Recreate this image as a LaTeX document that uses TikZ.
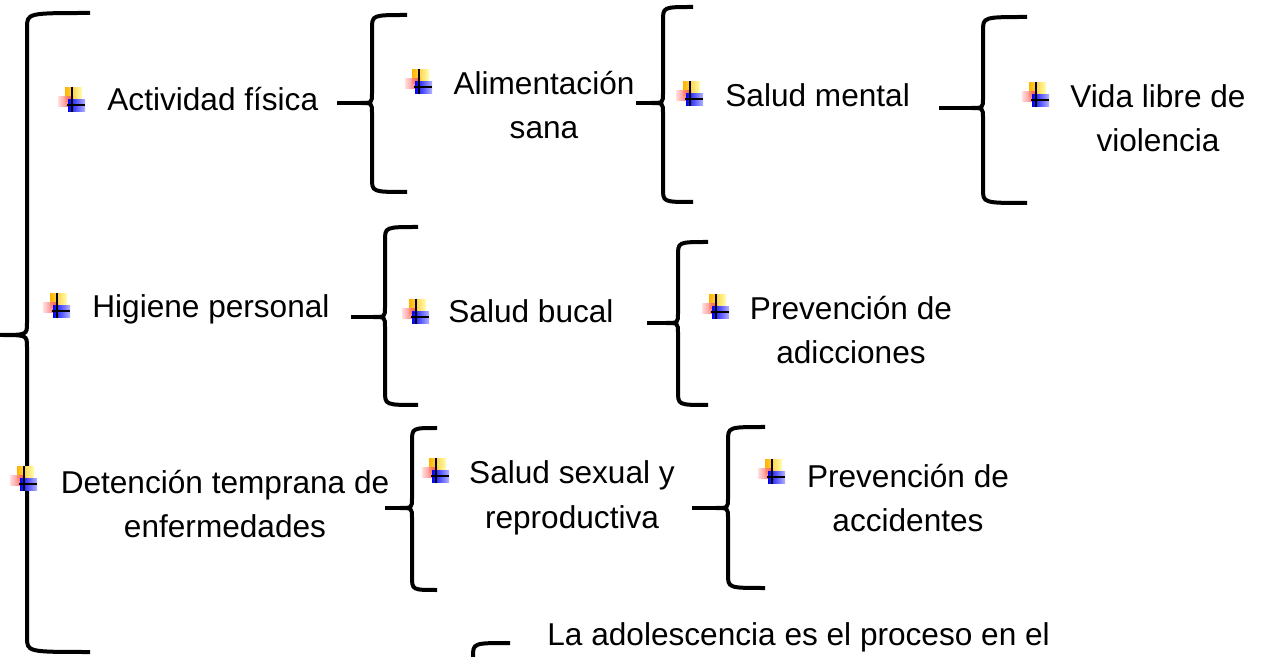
\documentclass[tikz,border=0pt]{standalone}
\usepackage{fontspec}
\setmainfont{Liberation Sans}

\tikzset{
  brc/.style={line width=2pt},
  lbl/.style={font=\fontsize{15.8pt}{22pt}\selectfont, inner sep=0pt, align=center},
  bul/.pic={
    \shade [left color=orange!60!yellow, right color=yellow!30] (-7,-17) rectangle (10,-3);
    \shade [left color=red!15, right color=red!80, opacity=0.85] (-14,-8) rectangle (1,2);
    \shade [left color=blue, right color=blue!30] (-4,-5) rectangle (13,7);
    \draw [line width=1pt] (0,-18) -- (0,7) (-5,0) -- (13,0);
  }
}

\begin{document}
\begin{tikzpicture}[x=0.5pt, y=-0.5pt]
    \useasboundingbox (0,0) rectangle (1269,657);

    % main brace
    \draw [brc] (90,13) .. controls (27,13) .. (27,28) -- (27,323)
      .. controls (27,335) .. (0,335) .. controls (27,335) .. (27,347)
      -- (27,637) .. controls (27,652) .. (90,652);

    % small braces
    \foreach \xs/\yc/\xv/\yt/\yb/\xh [count=\i] in {
        337/103/372/15/192/407,
        636/103/663/7/202/693,
        939/108/983/17/203/1027,
        351/317/385/227/405/418,
        647/323/678/242/405/708,
        385/508/412/428/590/437,
        692/508/728/427/588/765} {
      \coordinate (s\i) at (\xs,\yc);
      \coordinate (c\i) at (\xv-12,\yc);
      \draw [brc] (\xh,\yt) .. controls (\xv,\yt) .. (\xv,\yt+14) -- (\xv,\yc-10)
        .. controls (\xv,\yc) .. (c\i) .. controls (\xv,\yc) .. (\xv,\yc+10)
        -- (\xv,\yb-14) .. controls (\xv,\yb) .. (\xh,\yb);
      \draw [brc] (s\i) -- (c\i);
    }

    % brace cut off at the bottom
    \draw [brc] (510,643) .. controls (473,643) .. (473,657) -- (473,670);

    % bullets
    \foreach \p in {(72,105), (419,87), (690,99), (1036,100),
                    (57,311), (416,317), (716,312),
                    (24,484), (436,476), (772,477)} {
      \pic at \p {bul};
    }

    % column 1
    \node [lbl, anchor=base west] (act) at (107,111) {Actividad física};
    \node [lbl, anchor=base west] (hig) at (92,318) {Higiene personal};
    \node [lbl, anchor=base] (det) at (225,538) {Detención temprana de\\enfermedades};

    % column 2
    \node [lbl, anchor=base] (ali) at (544,139) {Alimentación\\sana};
    \node [lbl, anchor=base west] (buc) at (448,323) {Salud bucal};
    \node [lbl, anchor=base] (sex) at (572,528) {Salud sexual y\\reproductiva};

    % column 3
    \node [lbl, anchor=base west] (men) at (725,107) {Salud mental};
    \node [lbl, anchor=base] (adi) at (851,364) {Prevención de\\adicciones};
    \node [lbl, anchor=base] (acc) at (908,531) {Prevención de\\accidentes};

    % column 4
    \node [lbl, anchor=base] (vio) at (1158,152) {Vida libre de\\violencia};

    % bottom
    \node [lbl, anchor=base west] (ado) at (547,645) {La adolescencia es el proceso en el};
\end{tikzpicture}
\end{document}
